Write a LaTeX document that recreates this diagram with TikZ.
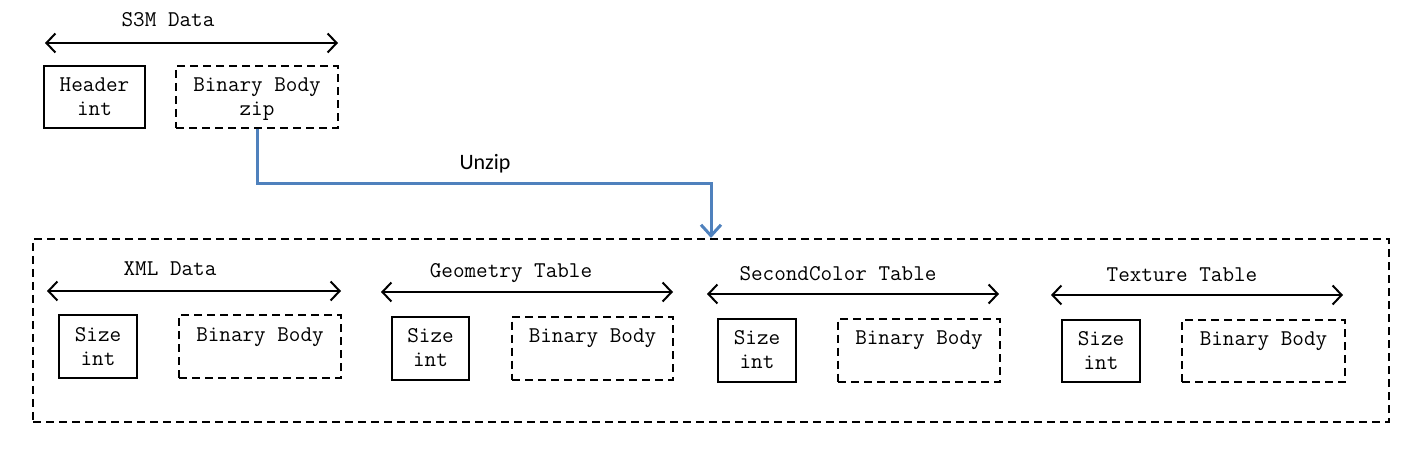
\documentclass[tikz,border=0pt]{standalone}
\usepackage{fontspec}
\newfontfamily\califont{Carlito}
\usetikzlibrary{arrows.meta}
\definecolor{linkblue}{RGB}{79,129,189}
\tikzset{
  every node/.style={font=\ttfamily\fontsize{22.5}{24}\selectfont, text=black},
  solidbox/.style={draw=black, line width=2pt, inner sep=0pt, align=center},
  dashbox/.style={draw=black, line width=2pt, dash pattern=on 8pt off 5pt, inner sep=0pt, align=center},
  span/.style={line width=2pt, {Straight Barb[length=9pt,width=19pt]}-{Straight Barb[length=9pt,width=19pt]}},
  title/.style={anchor=base, inner sep=0pt},
  unzipline/.style={draw=linkblue, line width=3pt, -{Straight Barb[length=11pt,width=20pt]}}
}
\begin{document}
\begin{tikzpicture}[x=1pt,y=-1pt]
\useasboundingbox (0,0) rectangle (1413,470);

% top part
\node[title] (s3mlabel) at (168,27) {S3M Data};
\coordinate (s3ml) at (45,43);
\coordinate (s3mr) at (338,43);
\draw[span] (s3ml) -- (s3mr);
\node[solidbox, minimum width=101pt, minimum height=62pt] (hdr) at (94.5,97) {Header\\int};
\node[dashbox, minimum width=162pt, minimum height=62pt] (bz) at (257,97) {Binary Body\\z\smash{ip}};

% big container
\node[dashbox, minimum width=1356pt, minimum height=183pt] (big) at (711,330.5) {};

% unzip connector
\coordinate (bend) at (711,184);
\draw[unzipline] (bz.south) |- (bend) -- (big.north);
\node[title, font=\califont\fontsize{22}{26}\selectfont] (unzip) at (485,170) {Unzip};

% XML Data
\node[title] (xmllabel) at (170,276) {XML Data};
\coordinate (xmll) at (47,291);
\coordinate (xmlr) at (341,291);
\draw[span] (xmll) -- (xmlr);
\node[solidbox, minimum width=78pt, minimum height=63pt] (xmlsize) at (98,346.5) {Size\\int};
\node[dashbox, minimum width=162pt, minimum height=63pt] (xmlbody) at (260,346.5) {Binary Body\\\phantom{int}};

% Geometry Table
\node[title] (geolabel) at (511,278) {Geometry Table};
\coordinate (geol) at (381,292);
\coordinate (geor) at (673,292);
\draw[span] (geol) -- (geor);
\node[solidbox, minimum width=77pt, minimum height=63pt] (geosize) at (430.5,348) {Size\\int};
\node[dashbox, minimum width=161pt, minimum height=63pt] (geobody) at (592.5,348) {Binary Body\\\phantom{int}};

% SecondColor Table
\node[title] (sclabel) at (838,280) {SecondColor Table};
\coordinate (scl) at (707,294);
\coordinate (scr) at (999,294);
\draw[span] (scl) -- (scr);
\node[solidbox, minimum width=78pt, minimum height=63pt] (scsize) at (757,350) {Size\\int};
\node[dashbox, minimum width=162pt, minimum height=63pt] (scbody) at (919,350) {Binary Body\\\phantom{int}};

% Texture Table
\node[title] (texlabel) at (1182,281) {Texture Table};
\coordinate (texl) at (1051,295);
\coordinate (texr) at (1343,295);
\draw[span] (texl) -- (texr);
\node[solidbox, minimum width=78pt, minimum height=62pt] (texsize) at (1101,351) {Size\\int};
\node[dashbox, minimum width=163pt, minimum height=62pt] (texbody) at (1263.5,351) {Binary Body\\\phantom{int}};
\end{tikzpicture}
\end{document}
